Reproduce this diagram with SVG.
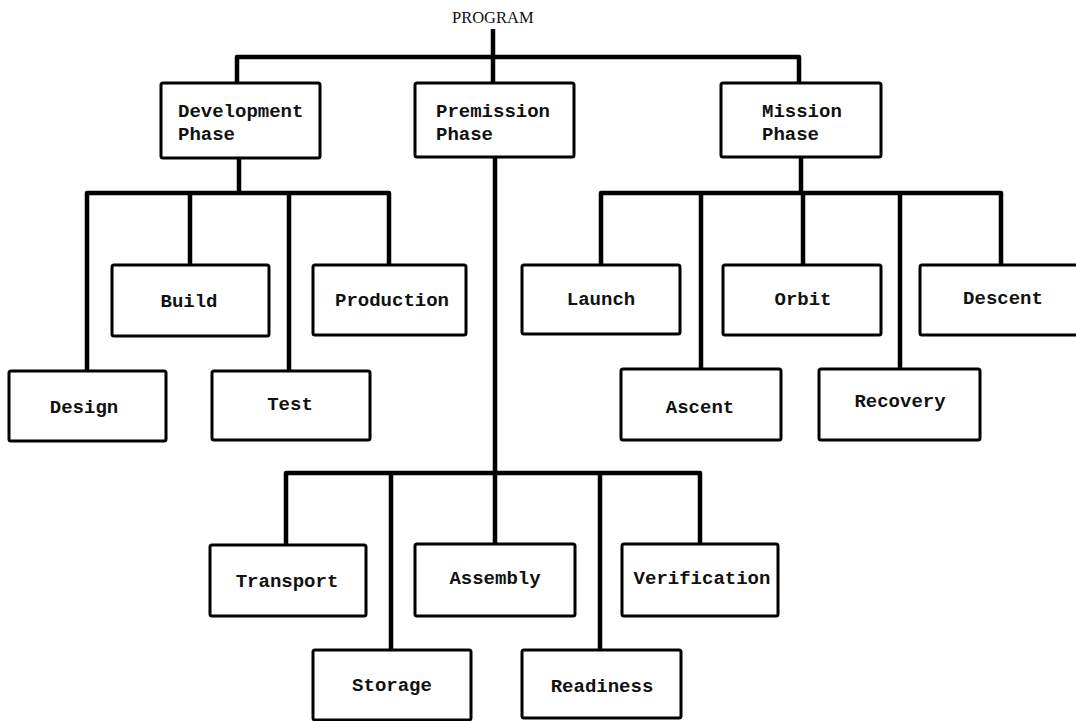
<svg xmlns="http://www.w3.org/2000/svg" width="1076" height="721" viewBox="0 0 1076 721">
<style>
.bg{fill:#fff}
.box{fill:#fff;stroke:#000;stroke-width:3}
.c{fill:none;stroke:#000;stroke-width:4.5;stroke-linejoin:round;stroke-linecap:butt}
.t{font-family:"Liberation Mono","DejaVu Sans Mono",monospace;font-size:19px;font-weight:bold;fill:#111}
.m{text-anchor:middle}
.title{font-family:"Liberation Serif","Times New Roman",serif;font-size:16.5px;fill:#111}
</style>
<rect class="bg" x="0" y="0" width="1076" height="721"/>
<g id="connectors">
<path class="c" d="M493 29V83"/>
<path class="c" d="M237 83V57H799V83"/>
<path class="c" d="M239 158V193"/>
<path class="c" d="M87 371V193H389V265"/>
<path class="c" d="M190 193V265"/>
<path class="c" d="M289 193V371"/>
<path class="c" d="M495 157V473"/>
<path class="c" d="M286 545V473H700V544"/>
<path class="c" d="M391 473V650"/>
<path class="c" d="M495 473V544"/>
<path class="c" d="M600 473V650"/>
<path class="c" d="M801 157V193"/>
<path class="c" d="M601 265V193H1001V265"/>
<path class="c" d="M701 193V369"/>
<path class="c" d="M803 193V265"/>
<path class="c" d="M900 193V369"/>
</g>
<g id="program"><text class="title" x="452" y="23">PROGRAM</text></g>
<g id="development-phase"><rect class="box" x="161" y="83" width="159" height="75" rx="2"/><text class="t" x="178" y="117">Development</text><text class="t" x="178" y="140">Phase</text></g>
<g id="premission-phase"><rect class="box" x="415" y="83" width="159" height="74" rx="2"/><text class="t" x="436" y="117">Premission</text><text class="t" x="436" y="140">Phase</text></g>
<g id="mission-phase"><rect class="box" x="721" y="83" width="160" height="74" rx="2"/><text class="t" x="762" y="117">Mission</text><text class="t" x="762" y="140">Phase</text></g>
<g id="build"><rect class="box" x="112" y="265" width="157" height="71" rx="2"/><text class="t m" x="189" y="307">Build</text></g>
<g id="production"><rect class="box" x="313" y="265" width="153" height="70" rx="2"/><text class="t m" x="392" y="306">Production</text></g>
<g id="launch"><rect class="box" x="522" y="265" width="158" height="69" rx="2"/><text class="t m" x="601" y="305">Launch</text></g>
<g id="orbit"><rect class="box" x="723" y="265" width="158" height="70" rx="2"/><text class="t m" x="803" y="305">Orbit</text></g>
<g id="descent"><rect class="box" x="920" y="265" width="170" height="70" rx="2"/><text class="t m" x="1003" y="304">Descent</text></g>
<g id="design"><rect class="box" x="9" y="371" width="157" height="70" rx="2"/><text class="t m" x="84" y="413">Design</text></g>
<g id="test"><rect class="box" x="212" y="371" width="158" height="69" rx="2"/><text class="t m" x="290" y="410">Test</text></g>
<g id="ascent"><rect class="box" x="621" y="369" width="160" height="71" rx="2"/><text class="t m" x="700" y="413">Ascent</text></g>
<g id="recovery"><rect class="box" x="819" y="369" width="161" height="71" rx="2"/><text class="t m" x="900" y="407">Recovery</text></g>
<g id="transport"><rect class="box" x="210" y="545" width="156" height="71" rx="2"/><text class="t m" x="287" y="587">Transport</text></g>
<g id="assembly"><rect class="box" x="415" y="544" width="160" height="72" rx="2"/><text class="t m" x="495" y="584">Assembly</text></g>
<g id="verification"><rect class="box" x="622" y="544" width="156" height="72" rx="2"/><text class="t m" x="702" y="584">Verification</text></g>
<g id="storage"><rect class="box" x="313" y="650" width="158" height="70" rx="2"/><text class="t m" x="392" y="691">Storage</text></g>
<g id="readiness"><rect class="box" x="522" y="650" width="159" height="68" rx="2"/><text class="t m" x="602" y="692">Readiness</text></g>
</svg>
